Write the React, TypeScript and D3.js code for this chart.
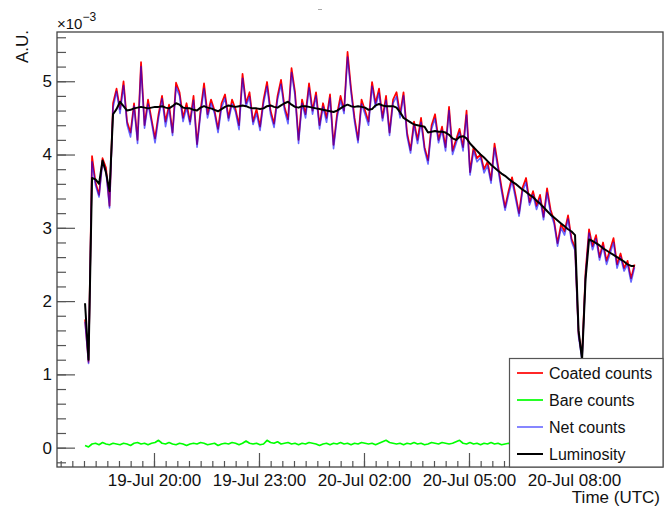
import React, { useRef, useEffect } from 'react';
import * as d3 from 'd3';

// time bins: hours since 19-Jul 00:00 (UTC), one bin every 6 minutes
const START_HOUR = 18.03;
const BIN_HOURS = 0.1;

// values in units of 1e-3 A.U.
const coated = [
  1.75, 1.17, 3.98, 3.62, 3.45, 3.95, 3.82, 3.3, 4.7, 4.9,
  4.62, 5.0, 4.45, 4.3, 4.7, 4.2, 5.26, 4.4, 4.75, 4.48,
  4.22, 4.55, 4.8, 4.45, 4.68, 4.3, 4.98, 4.85, 4.5, 4.7,
  4.45, 4.8, 4.14, 4.6, 4.97, 4.55, 4.75, 4.6, 4.35, 4.7,
  4.82, 4.5, 4.75, 4.62, 4.4, 5.1, 4.7, 4.85, 4.45, 4.62,
  4.38, 4.75, 4.99, 4.6, 4.42, 4.8, 5.02, 4.65, 4.48, 5.18,
  4.85, 4.2, 4.75, 4.55, 4.97, 4.6, 4.85, 4.4, 4.7, 4.5,
  4.82, 4.13, 4.55, 4.8, 4.6, 5.4, 4.9, 4.5, 4.2, 4.75,
  4.6, 4.45, 4.99, 4.7, 4.9, 4.5, 4.8, 4.3, 4.75, 4.85,
  4.55, 4.85, 4.3, 4.06, 4.45, 4.2, 4.5, 4.1, 3.92, 4.4,
  4.55, 4.2, 4.38, 4.1, 4.65, 4.05, 4.2, 4.35, 4.1, 4.6,
  3.76, 4.1, 3.95, 4.0, 3.8, 3.9, 3.65, 4.15, 3.85, 3.55,
  3.28, 3.5, 3.69, 3.45, 3.2, 3.55, 3.68, 3.35, 3.5, 3.3,
  3.45, 3.15, 3.54, 3.25, 3.1, 2.79, 3.05, 2.95, 3.17, 2.85,
  2.73, 1.55, 1.25, 2.4, 2.98, 2.75, 2.9, 2.6, 2.8, 2.55,
  2.7, 2.86, 2.5, 2.65, 2.45, 2.55, 2.31, 2.5,
];

const bare = [
  0.03, 0.01, 0.05, 0.06, 0.04, 0.07, 0.05, 0.04, 0.06, 0.05,
  0.04, 0.06, 0.05, 0.03, 0.06, 0.07, 0.05, 0.06, 0.04, 0.06,
  0.07, 0.1, 0.06, 0.05, 0.07, 0.05, 0.04, 0.06, 0.05, 0.03,
  0.05, 0.06, 0.05, 0.07, 0.06, 0.04, 0.05, 0.06, 0.03, 0.05,
  0.06, 0.05, 0.07, 0.06, 0.04, 0.06, 0.09, 0.06, 0.05, 0.06,
  0.04, 0.05, 0.1, 0.07, 0.06, 0.08, 0.05, 0.06, 0.07, 0.05,
  0.06, 0.04, 0.06, 0.05, 0.07, 0.06, 0.05, 0.03, 0.05, 0.06,
  0.04, 0.06, 0.05, 0.07, 0.05, 0.06, 0.04, 0.06, 0.05, 0.07,
  0.06, 0.05, 0.06, 0.04, 0.06, 0.08, 0.1, 0.07, 0.06, 0.05,
  0.06, 0.04, 0.06, 0.05, 0.07, 0.05, 0.06, 0.04, 0.05, 0.07,
  0.06, 0.05, 0.07, 0.06, 0.05, 0.06, 0.08, 0.1, 0.06, 0.05,
  0.07, 0.05, 0.06, 0.04, 0.06, 0.05, 0.07, 0.05, 0.06, 0.04,
  0.05, 0.06, 0.04, 0.06, 0.05, 0.07, 0.05, 0.06, 0.04, 0.05,
  0.06, 0.05, 0.04, 0.06, 0.05, 0.07, 0.06, 0.05, 0.04, 0.06,
  0.05, 0.03, 0.04, 0.06, 0.05, 0.06, 0.04, 0.05, 0.06, 0.04,
  0.05, 0.06, 0.04, 0.05, 0.06, 0.05, 0.04, 0.05,
];

const net = [
  1.72, 1.15, 3.9, 3.58, 3.42, 3.9, 3.76, 3.27, 4.64, 4.86,
  4.56, 4.94, 4.41, 4.24, 4.66, 4.15, 5.2, 4.36, 4.69, 4.44,
  4.16, 4.5, 4.76, 4.38, 4.63, 4.26, 4.92, 4.8, 4.45, 4.64,
  4.41, 4.74, 4.1, 4.55, 4.9, 4.5, 4.7, 4.56, 4.3, 4.64,
  4.77, 4.46, 4.69, 4.58, 4.34, 5.04, 4.66, 4.79, 4.41, 4.56,
  4.33, 4.7, 4.93, 4.55, 4.37, 4.75, 4.96, 4.6, 4.42, 5.12,
  4.8, 4.15, 4.7, 4.5, 4.91, 4.55, 4.8, 4.35, 4.65, 4.44,
  4.77, 4.08, 4.5, 4.74, 4.56, 5.33, 4.85, 4.45, 4.16, 4.69,
  4.55, 4.4, 4.93, 4.65, 4.84, 4.46, 4.74, 4.26, 4.7, 4.79,
  4.5, 4.8, 4.25, 4.02, 4.4, 4.15, 4.44, 4.06, 3.87, 4.35,
  4.49, 4.16, 4.33, 4.05, 4.6, 4.0, 4.15, 4.3, 4.05, 4.54,
  3.72, 4.05, 3.9, 3.96, 3.75, 3.85, 3.61, 4.09, 3.8, 3.5,
  3.24, 3.45, 3.64, 3.4, 3.16, 3.5, 3.62, 3.31, 3.45, 3.25,
  3.4, 3.11, 3.48, 3.2, 3.06, 2.75, 3.0, 2.9, 3.12, 2.81,
  2.69, 1.52, 1.2, 2.35, 2.93, 2.7, 2.85, 2.56, 2.75, 2.5,
  2.65, 2.8, 2.45, 2.6, 2.41, 2.5, 2.26, 2.46,
];

const luminosity = [
  1.97, 1.2, 3.68, 3.66, 3.6, 3.92, 3.75, 3.5, 4.55, 4.62,
  4.72, 4.66, 4.6, 4.61, 4.63, 4.64, 4.65, 4.64, 4.63, 4.64,
  4.65, 4.65, 4.66, 4.64, 4.63, 4.66, 4.7, 4.68, 4.64, 4.63,
  4.63, 4.61, 4.6, 4.64, 4.66, 4.64, 4.63, 4.61, 4.59, 4.62,
  4.65, 4.67, 4.66, 4.65, 4.66, 4.67, 4.66, 4.64, 4.63, 4.63,
  4.62, 4.63, 4.66, 4.67, 4.65, 4.64, 4.67, 4.7, 4.72, 4.68,
  4.65, 4.64, 4.66, 4.66, 4.65, 4.64, 4.63, 4.62, 4.61, 4.6,
  4.59, 4.58, 4.6, 4.63, 4.66, 4.68, 4.66, 4.65, 4.66, 4.65,
  4.64, 4.61, 4.62, 4.67, 4.69, 4.67, 4.66, 4.66, 4.66, 4.64,
  4.58, 4.5, 4.47, 4.44, 4.41, 4.4, 4.39, 4.38, 4.3, 4.31,
  4.32, 4.31, 4.31, 4.3, 4.27, 4.22, 4.2, 4.24, 4.25, 4.22,
  4.15, 4.1, 4.05, 4.0, 3.96, 3.91, 3.86, 3.82, 3.78, 3.74,
  3.71, 3.67, 3.63, 3.6, 3.56, 3.52, 3.49, 3.45, 3.42, 3.37,
  3.33, 3.28, 3.23, 3.18, 3.14, 3.1, 3.06, 3.02, 2.98, 2.95,
  2.9, 1.6, 1.2, 2.3, 2.84, 2.82, 2.79, 2.76, 2.72, 2.69,
  2.66, 2.63, 2.6, 2.57, 2.54, 2.5, 2.48, 2.48,
];

const majorHours = [20, 23, 26, 29, 32];
const majorLabels = ['19-Jul 20:00', '19-Jul 23:00', '20-Jul 02:00', '20-Jul 05:00', '20-Jul 08:00'];
const yMajor = [0, 1, 2, 3, 4, 5];

const series = [
  { name: 'Coated counts', values: coated, color: '#ff0000', width: 1.7, opacity: 1 },
  { name: 'Bare counts', values: bare, color: '#00ff00', width: 1.7, opacity: 1 },
  { name: 'Net counts', values: net, color: '#0000ff', width: 1.6, opacity: 0.6 },
  { name: 'Luminosity', values: luminosity, color: '#000000', width: 2, opacity: 1 },
];

const W = 667;
const H = 510;
const frame = { left: 57, right: 663, top: 32, bottom: 467 };
const FONT = '"Liberation Sans", Arial, Helvetica, sans-serif';

const App = () => {
  const ref = useRef<SVGSVGElement>(null);

  useEffect(() => {
    const svg = d3.select(ref.current);
    svg.selectAll('*').remove();

    const x = d3.scaleLinear().domain([17.229, 34.543]).range([frame.left, frame.right]);
    const y = d3.scaleLinear().domain([-0.264, 5.672]).range([frame.bottom, frame.top]);

    svg.append('rect').attr('width', W).attr('height', H).attr('fill', '#fff');

    // tiny empty-title mark
    svg.append('line')
      .attr('x1', 318).attr('x2', 322).attr('y1', 9.5).attr('y2', 9.5)
      .attr('stroke', '#aaa').attr('stroke-width', 1);

    svg.append('clipPath').attr('id', 'plot-clip')
      .append('rect')
      .attr('x', frame.left).attr('y', frame.top)
      .attr('width', frame.right - frame.left).attr('height', frame.bottom - frame.top);

    // x axis (ticks inside, pointing up)
    const xMinor = d3.range(52, 104).map(k => k / 3);
    const gx = svg.append('g').attr('transform', `translate(0, ${frame.bottom})`);
    gx.append('g')
      .call(d3.axisBottom(x).tickValues(xMinor).tickSize(-6).tickFormat(() => ''));
    gx.append('g')
      .call(d3.axisBottom(x).tickValues(majorHours).tickSize(-14).tickPadding(7)
        .tickFormat((d, i) => majorLabels[i]));
    gx.selectAll('.domain').remove();
    gx.selectAll('.tick line').attr('stroke', '#555').attr('stroke-width', 1.2);
    gx.selectAll('text')
      .attr('font-family', FONT).attr('font-size', 17).attr('fill', '#111');

    // y axis (ticks inside, pointing right)
    const yMinor = d3.range(-1, 29).map(k => k * 0.2);
    const gy = svg.append('g').attr('transform', `translate(${frame.left}, 0)`);
    gy.append('g')
      .call(d3.axisLeft(y).tickValues(yMinor).tickSize(-9).tickFormat(() => ''));
    gy.append('g')
      .call(d3.axisLeft(y).tickValues(yMajor).tickSize(-18).tickPadding(5)
        .tickFormat(d => String(d)));
    gy.selectAll('.domain').remove();
    gy.selectAll('.tick line').attr('stroke', '#555').attr('stroke-width', 1.2);
    gy.selectAll('text')
      .attr('font-family', FONT).attr('font-size', 17).attr('fill', '#111');

    // data lines
    const line = d3.line<number>()
      .x((d, i) => x(START_HOUR + i * BIN_HOURS))
      .y(d => y(d));

    const plot = svg.append('g').attr('clip-path', 'url(#plot-clip)');
    series.forEach(s => {
      plot.append('path')
        .datum(s.values)
        .attr('fill', 'none')
        .attr('stroke', s.color)
        .attr('stroke-width', s.width)
        .attr('stroke-opacity', s.opacity)
        .attr('stroke-linejoin', 'round')
        .attr('d', line);
    });

    // frame
    svg.append('rect')
      .attr('x', frame.left).attr('y', frame.top)
      .attr('width', frame.right - frame.left).attr('height', frame.bottom - frame.top)
      .attr('fill', 'none').attr('stroke', '#444').attr('stroke-width', 1.3);

    // axis titles
    svg.append('text')
      .attr('transform', 'translate(28, 30) rotate(-90)')
      .attr('text-anchor', 'end')
      .attr('font-family', FONT).attr('font-size', 17).attr('fill', '#111')
      .text('A.U.');

    const expo = svg.append('text')
      .attr('x', frame.left).attr('y', 29)
      .attr('font-family', FONT).attr('font-size', 15).attr('fill', '#111');
    expo.append('tspan').text('\u00d710');
    expo.append('tspan').attr('dy', -8).attr('font-size', 12).text('\u22123');

    svg.append('text')
      .attr('x', 660).attr('y', 503)
      .attr('text-anchor', 'end')
      .attr('font-family', FONT).attr('font-size', 17).attr('fill', '#111')
      .text('Time (UTC)');

    // legend
    const legend = svg.append('g');
    legend.append('rect')
      .attr('x', 509.5).attr('y', 358.5)
      .attr('width', frame.right - 509.5).attr('height', frame.bottom - 358.5)
      .attr('fill', '#fff').attr('stroke', '#555').attr('stroke-width', 1.2);

    series.forEach((s, i) => {
      const cy = 373 + i * 27;
      legend.append('line')
        .attr('x1', 517).attr('x2', 543).attr('y1', cy).attr('y2', cy)
        .attr('stroke', s.color).attr('stroke-width', s.width)
        .attr('stroke-opacity', s.opacity);
      legend.append('text')
        .attr('x', 549).attr('y', cy + 6)
        .attr('font-family', FONT).attr('font-size', 16).attr('fill', '#111')
        .text(s.name);
    });
  }, []);

  return (
    <svg ref={ref} width={W} height={H}
      style={{ position: 'absolute', left: 0, top: 0, display: 'block' }} />
  );
};

export default App;
